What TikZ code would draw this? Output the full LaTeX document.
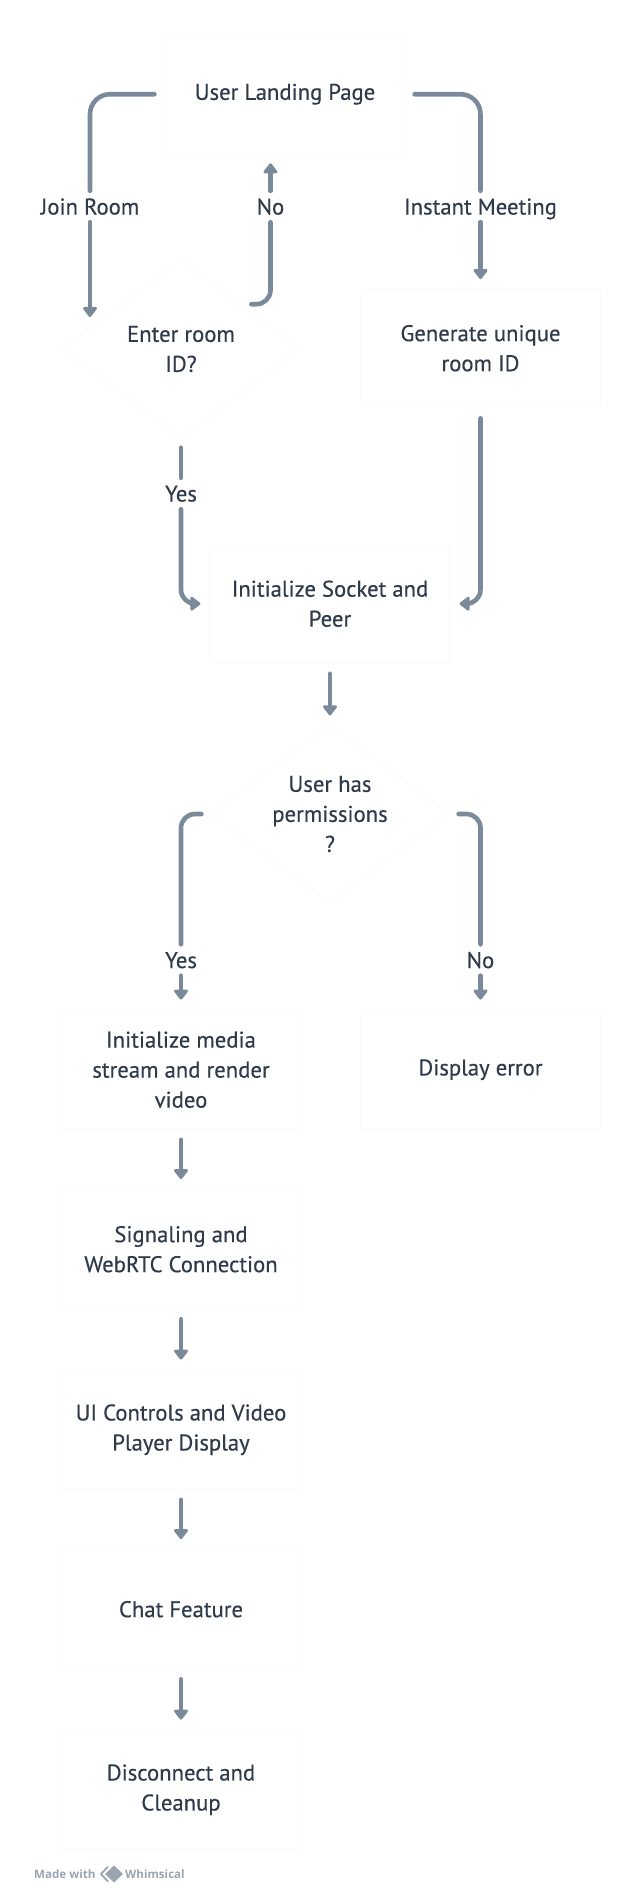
\documentclass[tikz,border=0pt]{standalone}
\usepackage{fontspec}
\setmainfont{PT Sans}[RawFeature={embolden=0.35}]
\newfontfamily\footfont{Open Sans}
\usetikzlibrary{arrows.meta,shapes.geometric}
\definecolor{ink}{HTML}{2F3B4B}
\definecolor{wire}{HTML}{7A8A9A}
\definecolor{edge}{HTML}{FBFBFB}
\definecolor{foot}{HTML}{9AA5B1}
\tikzset{
  x=1bp,y=-1bp,
  every node/.style={text=ink,font=\fontsize{22.7bp}{30bp}\selectfont},
  card/.style={draw=edge,line width=1.2bp,fill=white,rounded corners=2bp,minimum width=240bp,minimum height=119bp,inner sep=0pt,align=center,yshift=-.7bp},
  choice/.style={diamond,aspect=1.34,draw=edge,line width=1.2bp,fill=white,inner sep=0pt,minimum width=240bp,minimum height=178bp,align=center},
  tag/.style={inner sep=0pt,minimum height=31bp,text height=21bp,text depth=5bp},
  wireline/.style={draw=wire,line width=4.6bp,line cap=round,line join=round},
  arrowline/.style={wireline,-{Triangle[length=11bp,width=16bp,round]}},
  footnote/.style={text=foot,inner sep=0pt,font=\footfont\bfseries\fontsize{11.6bp}{14bp}\selectfont}
}
\begin{document}
\begin{tikzpicture}
\useasboundingbox (0,0) rectangle (634,1899);
\node[card] (land) at (285,93.5) {User Landing Page};
\node[card] (gen) at (480.5,347.5) {Generate unique\\room ID};
\node[card] (socket) at (330,603) {Initialize Socket and\\Peer};
\node[card] (media) at (181,1069) {Initialize media\\stream and render\\video};
\node[card] (err) at (480.5,1069) {Display error};
\node[card] (signal) at (181,1248.5) {Signaling and\\WebRTC Connection};
\node[card] (ui) at (181,1429) {UI Controls and Video\\Player Display};
\node[card] (chat) at (181,1608.5) {Chat Feature};
\node[card] (leave) at (181,1789) {Disconnect and\\Cleanup};
\node[choice] (enter) at (181,349) {Enter room\\ID?};
\node[choice] (perm) at (330,814) {User has\\permissions\\?};
\node[tag] (join) at (90,206.5) {Join Room};
\node[tag] (no1) at (270.5,206.5) {No};
\node[tag] (instant) at (480.5,206.5) {Instant Meeting};
\node[tag] (yes1) at (181,493.5) {Yes};
\node[tag] (yes2) at (181,960) {Yes};
\node[tag] (no2) at (480.5,960) {No};
\coordinate (enterin) at (90,317);
\draw[wireline,rounded corners=20bp,shorten <=10bp] (land.west) -| (join.north);
\draw[arrowline] (join.south) -- (enterin);
\draw[wireline,rounded corners=20bp,shorten <=9bp] (land.east) -| (instant.north);
\draw[arrowline,shorten >=9bp] (instant.south) -- (gen.north);
\draw[wireline,rounded corners=14bp,shorten <=10bp] (enter.north east) -| (no1.south);
\draw[arrowline,shorten >=9bp] (no1.north) -- (no1.north |- land.south);
\draw[wireline,shorten <=9bp] (enter.south) -- (yes1.north);
\draw[arrowline,rounded corners=14bp,shorten >=9bp] (yes1.south) |- (socket.west);
\draw[arrowline,rounded corners=14bp,shorten <=10bp,shorten >=9bp] (gen.south) |- (socket.east);
\draw[arrowline,shorten <=10bp,shorten >=9bp] (socket.south) -- (perm.north);
\draw[wireline,rounded corners=14bp,shorten <=8bp] (perm.west) -| (yes2.north);
\draw[wireline,rounded corners=14bp,shorten <=8bp] (perm.east) -| (no2.north);
\draw[arrowline,shorten >=10bp] (yes2.south) -- (media.north);
\draw[arrowline,shorten >=10bp] (no2.south) -- (err.north);
\draw[arrowline,shorten <=10bp,shorten >=10bp] (media.south) -- (signal.north);
\draw[arrowline,shorten <=10bp,shorten >=10bp] (signal.south) -- (ui.north);
\draw[arrowline,shorten <=10bp,shorten >=10bp] (ui.south) -- (chat.north);
\draw[arrowline,shorten <=10bp,shorten >=10bp] (chat.south) -- (leave.north);
\node[footnote,anchor=west] (made) at (34,1874) {Made with};
\node[footnote,anchor=west] (whim) at (125,1874) {Whimsical};
\fill[foot] (114,1865.5) -- (123,1874) -- (114,1882.5) -- (105,1874) -- cycle;
\draw[foot,line width=1.8bp] (108,1866.5) -- (101,1874) -- (108,1881.5);
\end{tikzpicture}
\end{document}
